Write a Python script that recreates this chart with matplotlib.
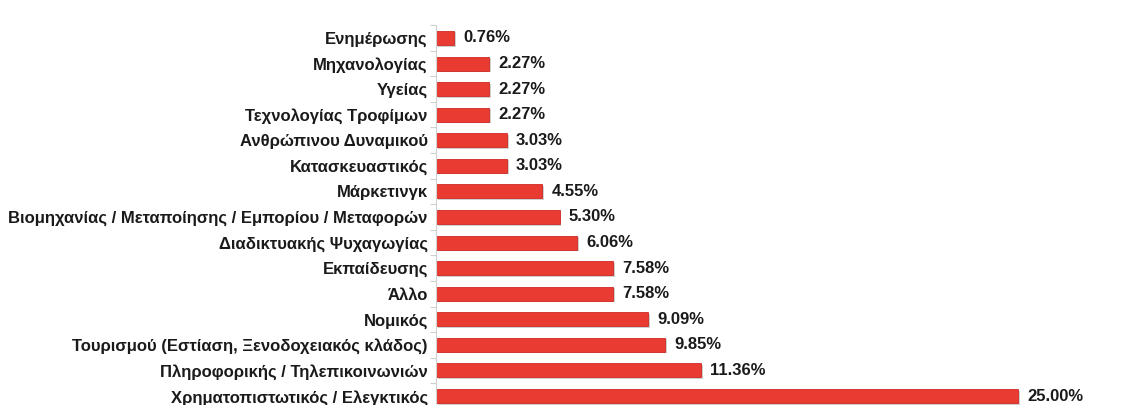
import numpy as np
import matplotlib.pyplot as plt

# κλάδοι και ποσοστά (από κάτω προς τα πάνω)
sectors = [
    "Χρηματοπιστωτικός / Ελεγκτικός",
    "Πληροφορικής / Τηλεπικοινωνιών",
    "Τουρισμού (Εστίαση, Ξενοδοχειακός κλάδος)",
    "Νομικός",
    "Άλλο",
    "Εκπαίδευσης",
    "Διαδικτυακής Ψυχαγωγίας",
    "Βιομηχανίας / Μεταποίησης / Εμπορίου / Μεταφορών",
    "Μάρκετινγκ",
    "Κατασκευαστικός",
    "Ανθρώπινου Δυναμικού",
    "Τεχνολογίας Τροφίμων",
    "Υγείας",
    "Μηχανολογίας",
    "Ενημέρωσης",
]
shares = [25.00, 11.36, 9.85, 9.09, 7.58, 7.58, 6.06, 5.30, 4.55, 3.03, 3.03, 2.27, 2.27, 2.27, 0.76]

plt.rcParams['font.family'] = ['Liberation Sans', 'DejaVu Sans']

fig = plt.figure(figsize=(11.27, 4.05), dpi=100)
ax = fig.add_axes([0.387, -0.0094, 0.607, 0.9472])

y = np.arange(len(sectors))
# σκιά κάτω από κάθε μπάρα
ax.barh(y - 0.06, shares, height=0.55, left=0.08, color='#cfcfcf', zorder=1)
ax.barh(y, shares, height=0.55, color='#ea3b32', edgecolor='#d02a22', linewidth=0.6, zorder=2)

for yi, v in zip(y, shares):
    ax.text(v + 0.4, yi, f"{v:.2f}%", va='center', ha='left',
            fontsize=12, fontweight='bold', color='#1a1a1a')

ax.set_xlim(0, 29.38)
ax.set_ylim(-0.5, len(sectors) - 0.5)
ax.set_yticks(y)
ax.set_yticklabels(sectors, fontsize=12, fontweight='bold', color='#1a1a1a')
ax.set_yticks(np.arange(-0.5, len(sectors), 1), minor=True)
ax.tick_params(axis='y', which='major', length=0, pad=6)
ax.tick_params(axis='y', which='minor', length=4, color='#d0d0d0', width=0.8)
ax.set_xticks([])

for s in ['top', 'right', 'bottom']:
    ax.spines[s].set_visible(False)
ax.spines['left'].set_color('#d0d0d0')
ax.spines['left'].set_linewidth(0.8)

fig.savefig('out.png', dpi=100, facecolor='white')
